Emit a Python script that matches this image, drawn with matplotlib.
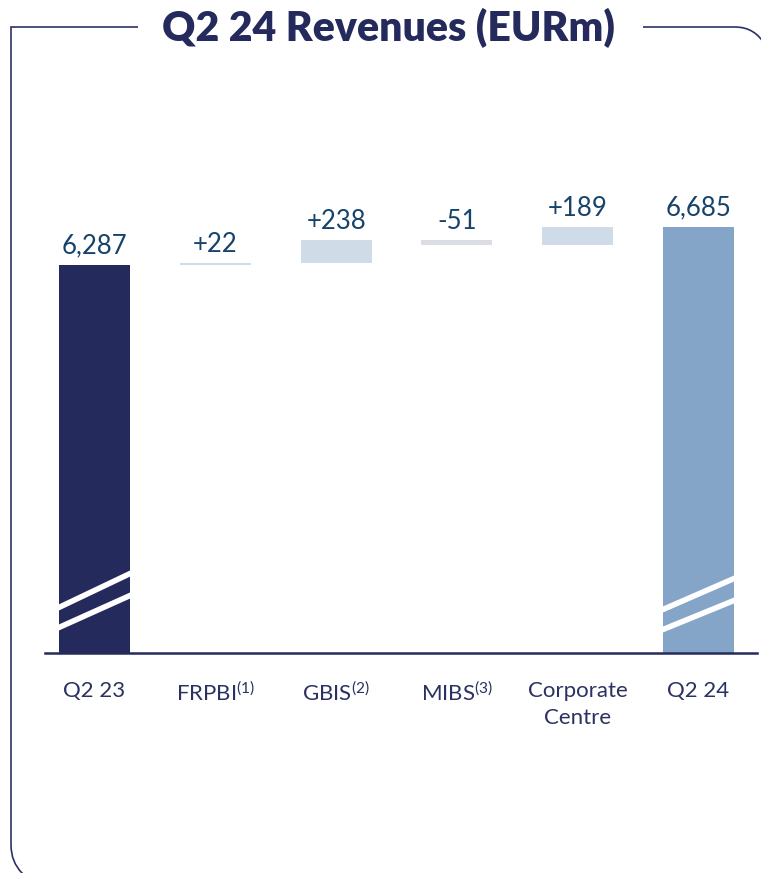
import matplotlib
matplotlib.use("Agg")
import matplotlib.pyplot as plt
from matplotlib.path import Path
from matplotlib.patches import PathPatch

plt.rcParams['font.family'] = ['Lato', 'DejaVu Sans']
plt.rcParams['mathtext.fontset'] = 'custom'
plt.rcParams['mathtext.rm'] = 'Lato'
plt.rcParams['mathtext.it'] = 'Lato'
plt.rcParams['mathtext.bf'] = 'Lato:bold'

# ---- data ----
title = "Q2 24 Revenues (EURm)"
categories = ["Q2 23", "FRPBI$^{\\mathregular{(1)}}$", "GBIS$^{\\mathregular{(2)}}$",
              "MIBS$^{\\mathregular{(3)}}$", "Corporate\nCentre", "Q2 24"]
start_value = 6287
deltas = [22, 238, -51, 189]
end_value = 6685
value_labels = ["6,287", "+22", "+238", "-51", "+189", "6,685"]

NAVY = "#242A5B"
LIGHT = "#85A5C8"
DELTA_POS = "#CFDCE8"
DELTA_NEG = "#DADDE4"
VAL_TXT = "#17436B"
CAT_TXT = "#2B3162"

W, H = 761, 873
fig = plt.figure(figsize=(W / 100, H / 100), dpi=100)

# axes placement in pixels
ax_left, ax_right = 45, 757
ax_bottom_px, ax_top_px = 653, 100
ax = fig.add_axes([ax_left / W, 1 - ax_bottom_px / H,
                   (ax_right - ax_left) / W, (ax_bottom_px - ax_top_px) / H])

ymin = 2223
px_per_unit = 38 / 398
ymax = start_value + (265 - ax_top_px) / px_per_unit
ax.set_ylim(ymin, ymax)
ax.set_xlim(-0.41, 5.484)

bw = 0.588
x = list(range(len(categories)))

# totals
ax.bar(x[0], start_value - ymin, bottom=ymin, width=bw, color=NAVY, zorder=2)
ax.bar(x[-1], end_value - ymin, bottom=ymin, width=bw, color=LIGHT, zorder=2)

# deltas
running = start_value
tops = [start_value]
for i, d in enumerate(deltas):
    lo = min(running, running + d)
    col = DELTA_POS if d >= 0 else DELTA_NEG
    ax.bar(x[i + 1], abs(d), bottom=lo, width=bw, color=col, zorder=2)
    tops.append(max(running, running + d))
    running += d
tops.append(end_value)

for xi, top, lab in zip(x, tops, value_labels):
    ax.annotate(lab, (xi, top), xytext=(0, 4.5), textcoords="offset points",
                ha="center", va="bottom", fontsize=18.5, color=VAL_TXT)

# axis styling
for s in ["top", "right", "left"]:
    ax.spines[s].set_visible(False)
ax.spines["bottom"].set_color(NAVY)
ax.spines["bottom"].set_linewidth(1.8)
ax.set_yticks([])
ax.set_xticks(x)
ax.set_xticklabels(categories, fontsize=16, color=CAT_TXT, linespacing=1.45)
ax.tick_params(axis="x", length=0, pad=20)

# break marks (white diagonals)
def px2val(py):
    return start_value + (265 - py) / px_per_unit

for xi, pairs in [(x[0], [(608, 573), (628, 595)]), (x[-1], [(610, 578), (630, 600)])]:
    for yl, yr in pairs:
        ax.plot([xi - bw / 2 - 0.01, xi + bw / 2 + 0.01], [px2val(yl), px2val(yr)],
                color="white", lw=4, solid_capstyle="butt", zorder=3)

# overlay for frame and title
ov = fig.add_axes([0, 0, 1, 1], zorder=-1)
ov.set_xlim(0, W)
ov.set_ylim(H, 0)
ov.axis("off")
frame_col = "#2B3166"
verts = [(138, 27), (11, 27), (11, 845), (11, 862), (22, 873), (30, 880)]
codes = [Path.MOVETO, Path.LINETO, Path.LINETO, Path.CURVE3, Path.CURVE3, Path.LINETO]
ov.add_patch(PathPatch(Path(verts, codes), fill=False, ec=frame_col, lw=1.2))
verts2 = [(643, 27), (735, 27), (755, 27), (765, 45)]
codes2 = [Path.MOVETO, Path.LINETO, Path.CURVE3, Path.CURVE3]
ov.add_patch(PathPatch(Path(verts2, codes2), fill=False, ec=frame_col, lw=1.2))

fig.text(388 / W, 1 - 28 / H, title, ha="center", va="center",
         fontsize=29.5, fontweight="heavy", color=NAVY)

fig.savefig("out.png", dpi=100)
